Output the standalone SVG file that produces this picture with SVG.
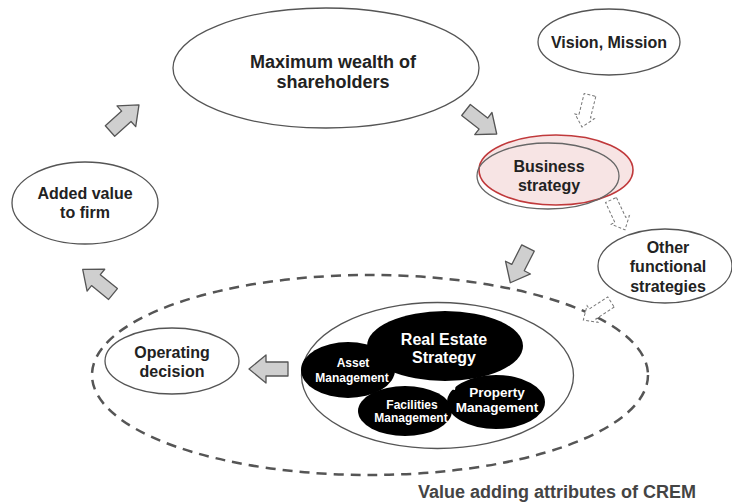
<svg xmlns="http://www.w3.org/2000/svg" width="732" height="503" viewBox="0 0 732 503">
<style>
.node{fill:#fff;stroke:#555;stroke-width:1.3}
.t{font-family:"Liberation Sans",Arial,sans-serif;font-weight:bold;fill:#222;text-anchor:middle}
.w{font-family:"Liberation Sans",Arial,sans-serif;font-weight:bold;fill:#fff;text-anchor:middle}
.blob{fill:#000}
.garrow{fill:#cfcfcf;stroke:#555;stroke-width:1.3;stroke-linejoin:round}
.darrow{fill:#fff;stroke:#777;stroke-width:1;stroke-dasharray:3 2}
</style>
<defs>
<path id="ga" d="M0,-7 H22 V-14 L39,0 L22,14 V7 H0 Z"/>
<path id="da" d="M0,-6 H22 V-10 L33,0 L22,10 V6 H0 Z"/>
</defs>
<rect width="732" height="503" fill="#fff"/>

<g id="crem-boundary">
<ellipse cx="370" cy="375" rx="278" ry="100" fill="none" stroke="#555" stroke-width="2.5" stroke-dasharray="10 7"/>
<text class="t" x="557" y="498" font-size="18" style="fill:#444">Value adding attributes of CREM</text>
</g>

<g id="max-wealth">
<ellipse class="node" cx="326" cy="68" rx="153" ry="60"/>
<text class="t" x="333" y="68" font-size="18">Maximum wealth of</text>
<text class="t" x="333" y="88" font-size="18">shareholders</text>
</g>

<g id="vision-mission">
<ellipse class="node" cx="609" cy="42" rx="71" ry="33"/>
<text class="t" x="609" y="48" font-size="16">Vision, Mission</text>
</g>

<g id="business-strategy">
<ellipse cx="556" cy="170" rx="77" ry="35" fill="#f7e4e4" stroke="#c0393b" stroke-width="1.6"/>
<ellipse cx="548" cy="176" rx="71" ry="33" fill="none" stroke="#666" stroke-width="1.3"/>
<text class="t" x="549" y="172" font-size="16">Business</text>
<text class="t" x="549" y="191" font-size="16">strategy</text>
</g>

<g id="other-functional">
<ellipse class="node" cx="665" cy="266" rx="67" ry="37"/>
<text class="t" x="668" y="253" font-size="16">Other</text>
<text class="t" x="668" y="272" font-size="16">functional</text>
<text class="t" x="668" y="292" font-size="16">strategies</text>
</g>

<g id="added-value">
<ellipse class="node" cx="85" cy="203" rx="73" ry="41"/>
<text class="t" x="85" y="199" font-size="16">Added value</text>
<text class="t" x="85" y="218" font-size="16">to firm</text>
</g>

<g id="operating-decision">
<ellipse class="node" cx="172" cy="361" rx="67" ry="33"/>
<text class="t" x="172" y="358" font-size="16">Operating</text>
<text class="t" x="172" y="377" font-size="16">decision</text>
</g>

<g id="real-estate-strategy">
<ellipse class="node" cx="437.5" cy="375.5" rx="136" ry="73"/>
<ellipse class="blob" cx="445" cy="346" rx="78" ry="35"/>
<ellipse class="blob" cx="348" cy="370" rx="47" ry="28"/>
<ellipse class="blob" cx="496" cy="402" rx="49" ry="27"/>
<ellipse class="blob" cx="405" cy="411" rx="47" ry="25"/>
<polygon points="398,381 456,383 455,390" fill="#fff"/>
<text class="w" x="444" y="345" font-size="16">Real Estate</text>
<text class="w" x="444" y="363" font-size="16">Strategy</text>
<text class="w" x="353" y="367" font-size="12">Asset</text>
<text class="w" x="352" y="382" font-size="12">Management</text>
<text class="w" x="412" y="409" font-size="12">Facilities</text>
<text class="w" x="411" y="422" font-size="12">Management</text>
<text class="w" x="497" y="397" font-size="13.5">Property</text>
<text class="w" x="497" y="412" font-size="13.5">Management</text>
</g>

<g id="connectors">
<use href="#ga" class="garrow" transform="translate(110,131) rotate(-42)"/>
<use href="#ga" class="garrow" transform="translate(466,110) rotate(38)"/>
<use href="#ga" class="garrow" transform="translate(528,248) rotate(117)"/>
<use href="#ga" class="garrow" transform="translate(288,369) rotate(180)"/>
<use href="#ga" class="garrow" transform="translate(113,294) rotate(219)"/>
<use href="#da" class="darrow" transform="translate(590,95) rotate(104)"/>
<use href="#da" class="darrow" transform="translate(611,200) rotate(65)"/>
<use href="#da" class="darrow" transform="translate(611,302) rotate(147)"/>
</g>
</svg>
